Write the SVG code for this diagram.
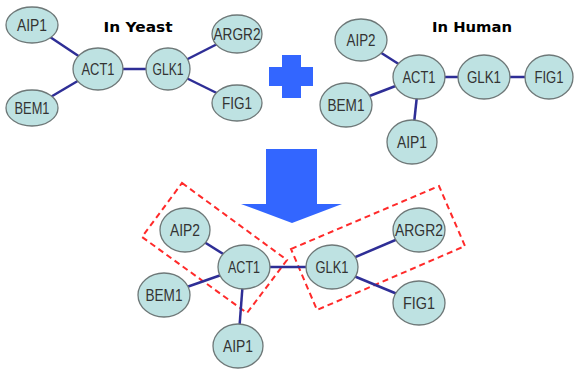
<svg xmlns="http://www.w3.org/2000/svg" width="574" height="370" viewBox="0 0 574 370">
<style>
.n ellipse{fill:#BEE2E2;stroke:#6E7878;stroke-width:1.3}
.n text{font-family:"Liberation Sans",Arial,sans-serif;font-size:16px;fill:#333;text-anchor:middle}
.e line{stroke:#2E2E96;stroke-width:2.5}
.t{font-family:"DejaVu Sans","Liberation Sans",sans-serif;font-weight:900;font-size:14px;fill:#000;text-anchor:middle}
.blue{fill:#3366FF}
.box{fill:none;stroke:#FF2A2A;stroke-width:2;stroke-dasharray:6,4}
</style>
<rect width="574" height="370" fill="#fff"/>
<text class="t" x="138" y="32" textLength="69" lengthAdjust="spacingAndGlyphs">In Yeast</text>
<text class="t" x="472" y="32" textLength="80" lengthAdjust="spacingAndGlyphs">In Human</text>
<g id="plus"><rect class="blue" x="282" y="55" width="19" height="43"/><rect class="blue" x="269" y="67" width="44" height="19"/></g>
<g id="arrow"><polygon class="blue" points="266,149 317,149 317,204 342,204 292,223 241,204 266,204"/></g>
<g id="groups">
<polygon class="box" points="182,183 287,260 247,313 142,237"/>
<polygon class="box" points="291,249 439,186 465,246 317,310"/>
</g>
<g id="connectors" class="e">
<line x1="32" y1="25" x2="98" y2="69"/>
<line x1="32" y1="108" x2="98" y2="69"/>
<line x1="98" y1="69" x2="168" y2="69"/>
<line x1="168" y1="69" x2="237" y2="34"/>
<line x1="168" y1="69" x2="237" y2="103"/>
<line x1="361" y1="40" x2="419" y2="77"/>
<line x1="346" y1="105" x2="419" y2="77"/>
<line x1="412" y1="142" x2="419" y2="77"/>
<line x1="419" y1="77" x2="484" y2="77"/>
<line x1="484" y1="77" x2="549" y2="77"/>
<line x1="185" y1="230" x2="244" y2="267"/>
<line x1="164" y1="295" x2="244" y2="267"/>
<line x1="238" y1="346" x2="244" y2="267"/>
<line x1="244" y1="267" x2="332" y2="267"/>
<line x1="332" y1="267" x2="419" y2="230"/>
<line x1="332" y1="267" x2="419" y2="303"/>
</g>
<g id="y-aip1" class="n"><ellipse cx="32" cy="25" rx="26" ry="18"/><text x="32" y="31" textLength="30" lengthAdjust="spacingAndGlyphs">AIP1</text></g>
<g id="y-bem1" class="n"><ellipse cx="32" cy="108" rx="26" ry="18"/><text x="32" y="114" textLength="35" lengthAdjust="spacingAndGlyphs">BEM1</text></g>
<g id="y-act1" class="n"><ellipse cx="98" cy="69" rx="25" ry="21"/><text x="98" y="75" textLength="33" lengthAdjust="spacingAndGlyphs">ACT1</text></g>
<g id="y-glk1" class="n"><ellipse cx="168" cy="69" rx="22" ry="21"/><text x="168" y="75" textLength="31" lengthAdjust="spacingAndGlyphs">GLK1</text></g>
<g id="y-argr2" class="n"><ellipse cx="237" cy="34" rx="25" ry="19"/><text x="237" y="40" textLength="47" lengthAdjust="spacingAndGlyphs">ARGR2</text></g>
<g id="y-fig1" class="n"><ellipse cx="237" cy="103" rx="25" ry="18"/><text x="237" y="109" textLength="30" lengthAdjust="spacingAndGlyphs">FIG1</text></g>
<g id="h-aip2" class="n"><ellipse cx="361" cy="40" rx="26" ry="21"/><text x="361" y="46" textLength="29" lengthAdjust="spacingAndGlyphs">AIP2</text></g>
<g id="h-act1" class="n"><ellipse cx="419" cy="77" rx="26" ry="22"/><text x="419" y="83" textLength="33" lengthAdjust="spacingAndGlyphs">ACT1</text></g>
<g id="h-glk1" class="n"><ellipse cx="484" cy="77" rx="26" ry="22"/><text x="484" y="83" textLength="34" lengthAdjust="spacingAndGlyphs">GLK1</text></g>
<g id="h-fig1" class="n"><ellipse cx="549" cy="77" rx="24" ry="22"/><text x="549" y="83" textLength="29" lengthAdjust="spacingAndGlyphs">FIG1</text></g>
<g id="h-bem1" class="n"><ellipse cx="346" cy="105" rx="26" ry="22"/><text x="346" y="111" textLength="37" lengthAdjust="spacingAndGlyphs">BEM1</text></g>
<g id="h-aip1" class="n"><ellipse cx="412" cy="142" rx="25" ry="22"/><text x="412" y="148" textLength="30" lengthAdjust="spacingAndGlyphs">AIP1</text></g>
<g id="m-aip2" class="n"><ellipse cx="185" cy="230" rx="25" ry="22"/><text x="185" y="236" textLength="30" lengthAdjust="spacingAndGlyphs">AIP2</text></g>
<g id="m-act1" class="n"><ellipse cx="244" cy="267" rx="26" ry="22"/><text x="244" y="273" textLength="32" lengthAdjust="spacingAndGlyphs">ACT1</text></g>
<g id="m-glk1" class="n"><ellipse cx="332" cy="267" rx="26" ry="22"/><text x="332" y="273" textLength="33" lengthAdjust="spacingAndGlyphs">GLK1</text></g>
<g id="m-argr2" class="n"><ellipse cx="419" cy="230" rx="26" ry="22"/><text x="419" y="236" textLength="48" lengthAdjust="spacingAndGlyphs">ARGR2</text></g>
<g id="m-fig1" class="n"><ellipse cx="419" cy="303" rx="26" ry="22"/><text x="419" y="309" textLength="32" lengthAdjust="spacingAndGlyphs">FIG1</text></g>
<g id="m-bem1" class="n"><ellipse cx="164" cy="295" rx="26" ry="22"/><text x="164" y="301" textLength="37" lengthAdjust="spacingAndGlyphs">BEM1</text></g>
<g id="m-aip1" class="n"><ellipse cx="238" cy="346" rx="25" ry="22"/><text x="238" y="352" textLength="30" lengthAdjust="spacingAndGlyphs">AIP1</text></g>
</svg>
